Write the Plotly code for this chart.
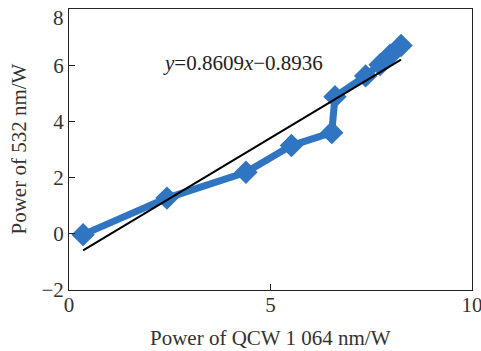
import plotly.graph_objects as go

x_vals = [0.35, 2.43, 4.39, 5.52, 6.52, 6.60, 7.36, 7.72, 7.97, 8.24]
y_vals = [-0.03, 1.27, 2.19, 3.14, 3.60, 4.88, 5.62, 6.02, 6.36, 6.70]
slope = 0.8609
intercept = -0.8936
fit_x = [x_vals[0], x_vals[-1]]
fit_y = [slope * v + intercept for v in fit_x]

x_ticks = [0, 5, 10]
y_ticks = [-2, 0, 2, 4, 6, 8]
y_ticklabels = ["−2", "0", "2", "4", "6", "8"]

x_title = "Power of QCW 1 064 nm/W"
y_title = "Power of 532 nm/W"

blue = "#2f75c1"
font = "Liberation Serif"

fig = go.Figure()
fig.add_trace(go.Scatter(x=x_vals, y=y_vals, mode="lines+markers",
                         line=dict(color=blue, width=7),
                         marker=dict(symbol="diamond", size=18, color=blue),
                         showlegend=False))
fig.add_trace(go.Scatter(x=fit_x, y=fit_y, mode="lines",
                         line=dict(color="black", width=2),
                         showlegend=False))
fig.add_annotation(x=4.32, y=6.08, xref="x", yref="y", showarrow=False,
                   text="<i>y</i>=0.8609<i>x</i>−0.8936",
                   font=dict(family=font, size=21, color="#222"))
fig.add_annotation(x=0.5, y=0, xref="paper", yref="paper", showarrow=False,
                   yanchor="middle", yshift=-48, text=x_title,
                   font=dict(family=font, size=21, color="#333"))
fig.add_annotation(x=0, y=0.5, xref="paper", yref="paper", showarrow=False,
                   xanchor="center", xshift=-51, textangle=-90, text=y_title,
                   font=dict(family=font, size=21, color="#333"))
# top y tick label, nudged down so it stays inside the page (as in the reference)
fig.add_annotation(x=0, y=1, xref="paper", yref="paper", showarrow=False,
                   xanchor="right", yanchor="top", xshift=-3, yshift=5,
                   text=y_ticklabels[-1],
                   font=dict(family=font, size=21, color="#333"))

axis_common = dict(showline=True, mirror=True, linecolor="#222", linewidth=1,
                   ticks="inside", ticklen=6, tickcolor="#222", showgrid=False,
                   zeroline=False, automargin=False, ticklabeloverflow="allow",
                   tickfont=dict(family=font, size=21, color="#333"))
fig.update_xaxes(range=[0, 10], tickvals=x_ticks, ticklabelstandoff=-4, **axis_common)
fig.update_yaxes(range=[-2, 8], tickvals=y_ticks,
                 ticktext=y_ticklabels[:-1] + [""], **axis_common)
fig.update_layout(width=481, height=351, margin=dict(l=69, r=9, t=9, b=61),
                  plot_bgcolor="white", paper_bgcolor="white",
                  font=dict(family=font))
fig.write_html("out.html", config={"displayModeBar": False},
               post_script="document.body.style.margin='0px';")
